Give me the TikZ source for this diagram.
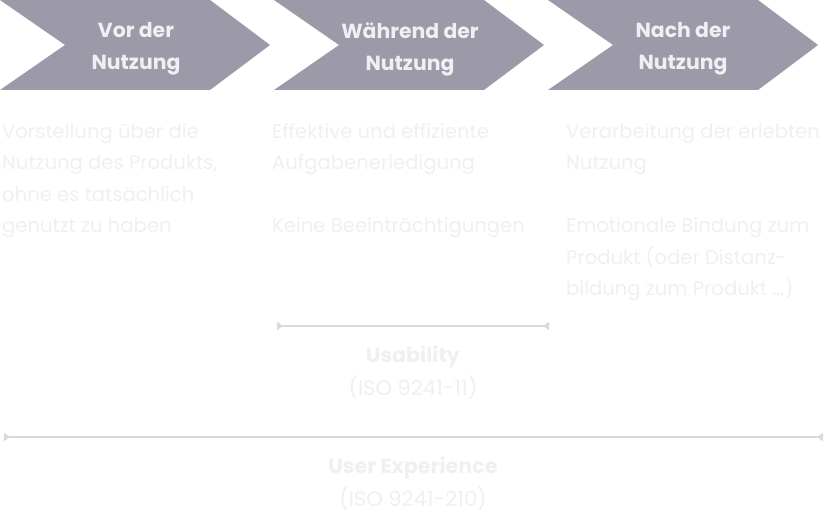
\documentclass[tikz,border=0pt]{standalone}
\usepackage{fontspec}
\setmainfont{Poppins}
\usetikzlibrary{arrows.meta}
\definecolor{chevfill}{HTML}{9C99A9}
\definecolor{chevtext}{HTML}{F0EFF4}
\definecolor{bodytext}{HTML}{EFEFF4}
\definecolor{spanline}{HTML}{DAD9E3}
\begin{document}
\begin{tikzpicture}[x=1pt,y=-1pt,
  chevron/.style={fill=chevfill},
  chevlabel/.style={text=chevtext,font=\fontsize{20.4}{32}\selectfont\bfseries,align=center,inner sep=0pt},
  bodytxt/.style={text=bodytext,font=\fontsize{19.6}{31.5}\selectfont,align=left,anchor=north west,inner sep=0pt},
  spanarrow/.style={draw=spanline,line width=1.6pt,{Triangle[reversed,length=6pt,width=8pt]}-{Triangle[reversed,length=6pt,width=8pt]}},
  spantitle/.style={text=bodytext,font=\fontsize{20.7}{24}\selectfont\bfseries,inner sep=0pt},
  spansub/.style={text=bodytext,font=\fontsize{21}{24}\selectfont,inner sep=0pt}]
\useasboundingbox (0,0) rectangle (827,513);

% three process chevrons
\foreach \x in {0,274,548}{
  \fill[chevron] (\x,0) -- (\x+210,0) -- (\x+270,45) -- (\x+210,90) -- (\x,90) -- (\x+65,45) -- cycle;
}
\node[chevlabel] (before) at (136,49) {Vor der\\Nutzung};
\node[chevlabel] (during) at (410,49) {Während der\\Nutzung};
\node[chevlabel] (after) at (683,49) {Nach der\\Nutzung};

% descriptions under each phase
\node[bodytxt] (beforetxt) at (2,123) {Vorstellung über die\\Nutzung des Produkts,\\ohne es tatsächlich\\genutzt zu haben};
\node[bodytxt] (duringtxt) at (272,123) {Effektive und effiziente\\Aufgabenerledigung\\[31.5pt]Keine Beeinträchtigungen};
\node[bodytxt] (aftertxt) at (566,123) {Verarbeitung der erlebten\\Nutzung\\[31.5pt]Emotionale Bindung zum\\Produkt (oder Distanz-\\bildung zum Produkt ...)};

% scope brackets
\coordinate (usaL) at (277,326);
\coordinate (usaR) at (549,326);
\draw[spanarrow] (usaL) -- (usaR);
\node[spantitle] (usa) at (413,357) {Usability};
\node[spansub] (usaiso) at (413,388) {(ISO 9241-11)};

\coordinate (uxL) at (4,437);
\coordinate (uxR) at (823,437);
\draw[spanarrow] (uxL) -- (uxR);
\node[spantitle] (ux) at (413,468) {User Experience};
\node[spansub] (uxiso) at (413,499) {(ISO 9241-210)};
\end{tikzpicture}
\end{document}
